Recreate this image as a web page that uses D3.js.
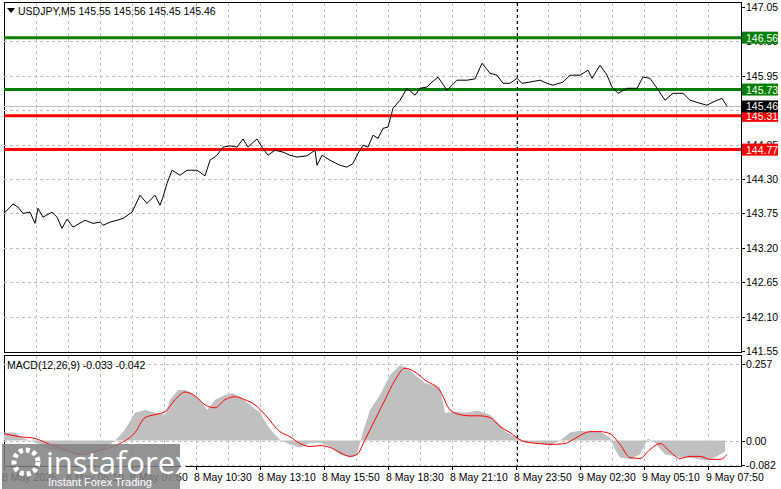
<!DOCTYPE html>
<html><head><meta charset="utf-8">
<script src="https://cdn.jsdelivr.net/npm/d3@7"></script>
<style>body{margin:0;background:#fff}svg{display:block;font-family:"Liberation Sans",Arial,sans-serif}</style>
</head><body><svg id="c" width="781" height="489"></svg>
<script>
const priceBars=[0,4.5,7,9.5,13,15.5,17,19.5,24,26.5,29,31.5,34.5,40.5,44.5,48,49.5,53,56.5,59.5,64,68,71.5,75.5,78,79.5,81.5,84,88,91.5,96.5,100.5,103,106.5,109.5,113,116.5,119.5,122,126.5,129,132,135.5,139.5,143,146.5,151.5,155.5,156.5,159,163,168,171.5,174.5,177,179.5,182,184.5,187,189.5,192,194.5,198,201.5,205.5,208,211.5,214,217,221.5,226.5,231.5,235.5,239,243,246.5,249.5,253,256.5,259,263,268,271.5,274.5,279.5,283,288,292,294,298,301.5,304,307,311.5,316.5,319.5,323,326.5,330.5,334.5,339.5,343,348,351.5,354.5,359,361.5];
const priceVals=[143.75,143.90,143.85,143.75,143.77,143.59,143.83,143.69,143.77,143.69,143.51,143.66,143.53,143.64,143.59,143.61,143.56,143.61,143.64,143.67,143.77,144.04,143.91,144.04,143.88,144.01,144.23,144.44,144.36,144.44,144.44,144.35,144.60,144.68,144.81,144.83,144.81,144.94,144.81,144.94,144.81,144.68,144.76,144.73,144.68,144.65,144.67,144.76,144.52,144.68,144.60,144.52,144.49,144.55,144.71,144.84,144.81,145.00,144.95,145.11,145.13,145.43,145.56,145.75,145.64,145.75,145.77,145.85,145.93,145.72,145.88,145.88,145.90,146.15,145.99,145.96,145.83,145.83,145.91,145.83,145.85,145.88,145.83,145.80,145.85,145.96,145.96,146.04,145.91,146.12,145.96,145.77,145.67,145.75,145.75,145.93,145.91,145.75,145.56,145.67,145.67,145.56,145.51,145.48,145.53,145.59,145.46];
const histBars=[0,5.5,8,13,18,23,30.5,38,48,53,57,60.5,65.5,70.5,75.5,80.5,83,87,90.5,94,98,101.5,105.5,110.5,114,118,123,128,131.5,134.5,138,143,148,153,158,163,168,173,176.5,179.5,183,188,193,198,201.5,205.5,210.5,218,220.5,225.5,230.5,237,243,248,250.5,255.5,260.5,268,273,278,283,288,293,298,303,305.5,308,313,318,322,325.5,330.5,335.5,340.5,345.5,350.5,355.5,360.5];
const histVals=[0.027,0.027,0.013,0,-0.013,-0.03,-0.04,-0.047,-0.037,-0.013,0.01,0.037,0.093,0.103,0.093,0.087,0.137,0.17,0.17,0.16,0.137,0.103,0.137,0.153,0.16,0.147,0.12,0.093,0.053,0.027,0.003,-0.013,-0.023,-0.007,-0.007,-0.02,-0.047,-0.057,-0.047,0.03,0.103,0.153,0.22,0.253,0.243,0.22,0.193,0.18,0.093,0.097,0.093,0.1,0.087,0.053,0.03,0.013,-0.007,-0.007,-0.017,0,0.027,0.033,0.03,0.03,0.01,-0.03,-0.057,-0.063,-0.047,0.007,-0.007,-0.047,-0.053,-0.057,-0.06,-0.067,-0.057,-0.037];
const sigBars=[0,8,15.5,23,30.5,38,48,58,65.5,70.5,75.5,80.5,85.5,90.5,95.5,100.5,105.5,110.5,115.5,120.5,125.5,130.5,138,143,148,153,158,163,168,173,176.5,180.5,185.5,190.5,195.5,200.5,205.5,210.5,218,223,228,233,238,243,248,253,258,263,268,273,280.5,283,288,293,298,303,308,313,318,323,328,333,338,343,348,353,358,361.5];
const sigVals=[0.023,0.013,0.007,-0.013,-0.03,-0.047,-0.033,-0.01,0.027,0.077,0.087,0.097,0.137,0.163,0.15,0.12,0.11,0.137,0.147,0.137,0.12,0.087,0.03,0.013,-0.01,-0.02,-0.017,-0.023,-0.04,-0.053,-0.047,0.003,0.07,0.137,0.203,0.243,0.23,0.203,0.167,0.103,0.087,0.083,0.083,0.077,0.047,0.027,0.003,-0.007,-0.01,-0.013,-0.01,-0.003,0.017,0.03,0.03,0.023,-0.013,-0.057,-0.06,-0.03,-0.01,-0.037,-0.06,-0.053,-0.053,-0.063,-0.063,-0.047];
const priceTicks=[147.05,146.50,145.95,145.40,144.85,144.30,143.75,143.20,142.65,142.10,141.55];
const timeLabels=["8 May 2025","8 May 05:10","8 May 07:50","8 May 10:30","8 May 13:10","8 May 15:50","8 May 18:30","8 May 21:10","8 May 23:50","9 May 02:30","9 May 05:10","9 May 07:50"];
const levels=[{v:146.56,c:"#008000"},{v:145.73,c:"#008000"},{v:145.31,c:"#ff0000"},{v:144.77,c:"#ff0000"}];
const lastPrice=145.46;
const macdTicks=[0.257,0.00,-0.082];

const svg=d3.select("#c");
const L=4,R=741;
const x=d3.scaleLinear().domain([0,368.5]).range([L,R]);
const y=d3.scaleLinear().domain([141.55,147.05]).range([351,7]);
const ym=d3.scaleLinear().domain([-0.082,0.257]).range([465,364]);
const gridC="#c0c0c0";
svg.append("rect").attr("x",L+0.5).attr("y",2.5).attr("width",R-L).attr("height",350).attr("fill","none").attr("stroke","#000");
svg.append("rect").attr("x",L+0.5).attr("y",355.5).attr("width",R-L).attr("height",111).attr("fill","none").attr("stroke","#000");
const gx=d3.range(16,368,16);
[[3,352],[356,466]].forEach(([a,b])=>{
 svg.selectAll(null).data(gx).join("line").attr("x1",d=>x(d)+0.5).attr("x2",d=>x(d)+0.5).attr("y1",a).attr("y2",b).attr("stroke",gridC).attr("stroke-dasharray","3,3");
});
svg.selectAll(null).data(priceTicks.slice(1,-1)).join("line").attr("x1",L).attr("x2",R).attr("y1",d=>Math.round(y(d))+0.5).attr("y2",d=>Math.round(y(d))+0.5).attr("stroke",gridC).attr("stroke-dasharray","3,3");
svg.selectAll(null).data(macdTicks).join("line").attr("x1",L).attr("x2",R).attr("y1",d=>Math.round(ym(d))+0.5).attr("y2",d=>Math.round(ym(d))+0.5).attr("stroke",gridC).attr("stroke-dasharray","3,3");
svg.append("line").attr("x1",L).attr("x2",R).attr("y1",Math.round(y(lastPrice))+0.5).attr("y2",Math.round(y(lastPrice))+0.5).attr("stroke","#c0c0c0");
svg.selectAll(null).data(levels).join("line").attr("x1",L).attr("x2",R).attr("y1",d=>y(d.v)).attr("y2",d=>y(d.v)).attr("stroke",d=>d.c).attr("stroke-width",3);
svg.append("path").datum(priceBars.map((b,i)=>[b,priceVals[i]])).attr("fill","none").attr("stroke","#000").attr("stroke-width",1)
 .attr("d",d3.line().x(d=>x(d[0])).y(d=>y(d[1])));
svg.append("path").datum(histBars.map((b,i)=>[b,histVals[i]])).attr("fill","#c0c0c0")
 .attr("d",d3.area().x(d=>x(d[0])).y0(ym(0)).y1(d=>ym(d[1])));
svg.append("path").datum(sigBars.map((b,i)=>[b,sigVals[i]])).attr("fill","none").attr("stroke","#ff0000").attr("stroke-width",1)
 .attr("d",d3.line().curve(d3.curveMonotoneX).x(d=>x(d[0])).y(d=>ym(d[1])));
svg.append("line").attr("x1",517.5).attr("x2",517.5).attr("y1",3).attr("y2",466).attr("stroke","#000").attr("stroke-dasharray","3,3");
const fs="10.5px";
svg.selectAll(null).data(priceTicks).join("line").attr("x1",R).attr("x2",R+4).attr("y1",d=>Math.round(y(d))+0.5).attr("y2",d=>Math.round(y(d))+0.5).attr("stroke","#000");
svg.selectAll(null).data(priceTicks).join("text").attr("x",746).attr("y",d=>y(d)+4).attr("font-size",fs).text(d=>d.toFixed(2));
svg.selectAll(null).data(macdTicks).join("line").attr("x1",R).attr("x2",R+4).attr("y1",d=>Math.round(ym(d))+0.5).attr("y2",d=>Math.round(ym(d))+0.5).attr("stroke","#000");
svg.selectAll(null).data(macdTicks).join("text").attr("x",746).attr("y",d=>ym(d)+4).attr("font-size",fs).text(d=>d===0?"0.00":d.toString());
const boxes=levels.concat([{v:lastPrice,c:"#000"}]);
const bg=svg.selectAll(null).data(boxes).join("g");
bg.append("rect").attr("x",742).attr("y",d=>y(d.v)-6).attr("width",36).attr("height",12).attr("fill",d=>d.c);
bg.append("text").attr("x",746).attr("y",d=>y(d.v)+4).attr("font-size",fs).attr("fill","#fff").text(d=>d.v.toFixed(2));
svg.selectAll(null).data(timeLabels).join("line").attr("x1",(d,i)=>x(i*32)+0.5).attr("x2",(d,i)=>x(i*32)+0.5).attr("y1",466).attr("y2",470).attr("stroke","#000");
svg.selectAll(null).data(timeLabels).join("text").attr("x",(d,i)=>x(i*32)-2).attr("y",481).attr("font-size",fs).text(d=>d);
svg.append("path").attr("d","M7,8 L15,8 L11,13 Z").attr("fill","#000");
svg.append("text").attr("x",18).attr("y",15).attr("font-size",fs).attr("fill","#000").text("USDJPY,M5  145.55 145.56 145.45 145.46");
svg.append("text").attr("x",7).attr("y",369).attr("font-size",fs).text("MACD(12,26,9) -0.033 -0.042");
const lg=svg.append("g");
lg.append("rect").attr("x",2).attr("y",444).attr("width",178).attr("height",45).attr("fill","#808080").attr("opacity",0.85);
lg.append("circle").attr("cx",26).attr("cy",462).attr("r",12).attr("fill","none").attr("stroke","#fff").attr("stroke-width",5).attr("stroke-dasharray","4,3");
lg.append("text").attr("x",46).attr("y",474).attr("font-size","31px").attr("fill","#fff").attr("font-family","Open Sans, sans-serif").text("instaforex");
lg.append("text").attr("x",48).attr("y",486).attr("font-size","11px").attr("fill","#fff").text("Instant Forex Trading");
</script></body></html>
